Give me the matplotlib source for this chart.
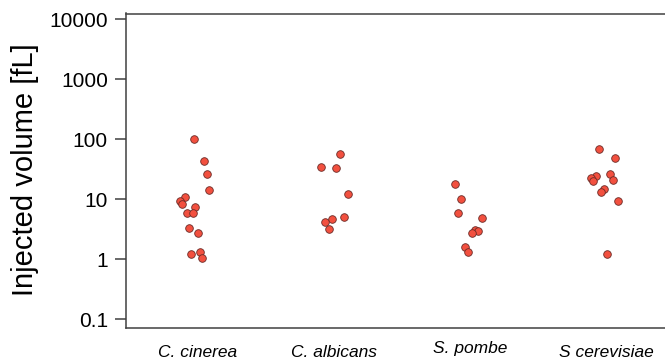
import matplotlib
matplotlib.use("Agg")
import matplotlib.pyplot as plt
import matplotlib.transforms as mtransforms
import numpy as np

plt.rcParams['font.family'] = ['Liberation Sans', 'DejaVu Sans']

# species on the x axis
species = ['C. cinerea', 'C. albicans', 'S. pombe', 'S cerevisiae']

# injected volumes [fL]
cinerea = [101, 43, 26.4, 14, 10.7, 9.4, 8.3, 7.4, 5.8, 5.9, 3.3, 2.7, 1.2, 1.31, 1.03]
albicans = [57, 34.5, 32.5, 12, 5.1, 4.6, 4.1, 3.2]
pombe = [17.6, 10.1, 5.9, 4.8, 3.0, 2.93, 2.7, 1.58, 1.31]
cerevisiae = [68, 48, 24.5, 22, 20, 25.8, 20.7, 14.5, 13.2, 9.3, 1.2]

# horizontal jitter of each point (category units)
jit_cinerea = [-0.02, 0.054, 0.071, 0.086, -0.09, -0.125, -0.108, -0.012, -0.076,
               -0.027, -0.061, 0.007, -0.042, 0.022, 0.037]
jit_albicans = [0.049, -0.09, 0.02, 0.105, 0.076, -0.01, -0.064, -0.034]
jit_pombe = [-0.112, -0.064, -0.086, 0.086, 0.037, 0.061, 0.012, -0.039, -0.015]
jit_cerevisiae = [-0.056, 0.064, -0.079, -0.117, -0.1, 0.022, 0.044, -0.02, -0.039,
                  0.083, 0.005]

yticks = [0.1, 1, 10, 100, 1000, 10000]
ytick_labels = ['0.1', '1', '10', '100', '1000', '10000']

groups = [cinerea, albicans, pombe, cerevisiae]
jitters = [jit_cinerea, jit_albicans, jit_pombe, jit_cerevisiae]

fig = plt.figure(figsize=(6.65, 3.61), dpi=100)
ax = fig.add_axes([126 / 665, 1 - 328 / 361, 1.03 - 126 / 665, (328 - 13.5) / 361])

for i, (vals, jit) in enumerate(zip(groups, jitters)):
    xs = i + 1 + np.array(jit)
    ax.scatter(xs, vals, s=30, facecolor='#f2503f', edgecolor='#6a2a26',
               linewidth=0.6, zorder=3)

ax.set_yscale('log')
ax.set_ylim(10 ** -1.15, 10 ** 4.092)
ax.set_xlim(0.479, 4.574)
ax.set_yticks(yticks)
ax.set_yticklabels(ytick_labels)
ax.minorticks_off()
ax.tick_params(axis='y', direction='out', length=8, width=1.1, color='#404040',
               labelsize=15, pad=5)
ax.set_xticks([1, 2, 3, 4])
ax.set_xticklabels(species, fontstyle='italic', fontsize=12.5)
ax.tick_params(axis='x', length=0, pad=12)
# S. pombe label sits a little higher
lbl = ax.get_xticklabels()[2]
lbl.set_transform(lbl.get_transform() + mtransforms.ScaledTranslation(0, 3 / 72, fig.dpi_scale_trans))

for side in ['left', 'bottom', 'top']:
    ax.spines[side].set_color('#404040')
    ax.spines[side].set_linewidth(1.1)
ax.spines['right'].set_visible(False)

fig.text(25 / 665, 1 - 170 / 361, 'Injected volume [fL]', rotation=90,
         fontsize=21, ha='center', va='center')

fig.savefig('out.png', dpi=100)
